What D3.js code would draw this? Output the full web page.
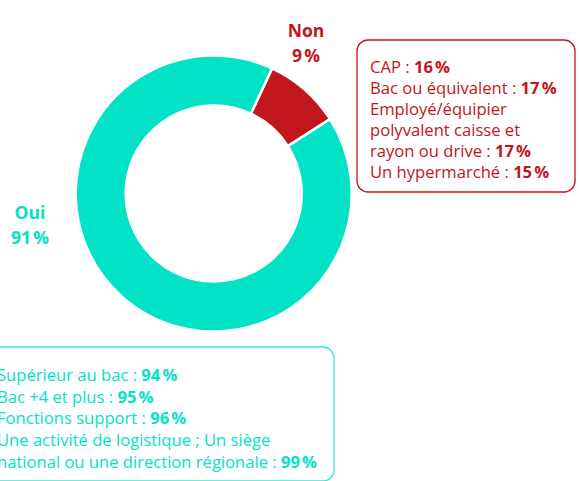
<!DOCTYPE html>
<html>
<head>
<meta charset="utf-8">
<script src="https://cdn.jsdelivr.net/npm/d3@7"></script>
<style>
  html, body { margin: 0; padding: 0; background: #fff; }
  svg { display: block; }
  text { font-family: "Open Sans", "Noto Sans", sans-serif; }
</style>
</head>
<body>
<svg id="chart" width="579" height="481"></svg>
<script>
// Answer shares (percent)
const categories = ["Non", "Oui"];
const values = [9, 91];
const colors = ["#C1161B", "#02E2C6"];

// Detail lines for each answer: [label, value]
const nonDetails = [
  ["CAP : ", "16\u202F%"],
  ["Bac ou équivalent : ", "17\u202F%"],
  ["Employé/équipier", null],
  ["polyvalent caisse et", null],
  ["rayon ou drive : ", "17\u202F%"],
  ["Un hypermarché : ", "15\u202F%"]
];
const ouiDetails = [
  ["Supérieur au bac : ", "94\u202F%"],
  ["Bac +4 et plus : ", "95\u202F%"],
  ["Fonctions support : ", "96\u202F%"],
  ["Une activité de logistique ; Un siège", null],
  ["national ou une direction régionale : ", "99\u202F%"]
];

const svg = d3.select("#chart");
const cx = 213.7, cy = 193.5, rOuter = 138, rInner = 88;
const startOffset = 25 * Math.PI / 180;

const pie = d3.pie().sort(null).value(d => d)
  .startAngle(startOffset).endAngle(startOffset + 2 * Math.PI);
const arc = d3.arc().innerRadius(rInner).outerRadius(rOuter);

const g = svg.append("g").attr("transform", `translate(${cx},${cy})`);
g.selectAll("path").data(pie(values)).join("path")
  .attr("d", arc)
  .attr("fill", (d, i) => colors[i])
  .attr("stroke", "#fff")
  .attr("stroke-width", 2.5)
  .attr("stroke-linejoin", "miter");

// Category labels
const labelPos = [{x: 306, y: 37}, {x: 30, y: 219}];
categories.forEach((c, i) => {
  const t = svg.append("text")
    .attr("x", labelPos[i].x).attr("y", labelPos[i].y)
    .attr("text-anchor", "middle")
    .attr("fill", colors[i])
    .attr("font-size", 17.5).attr("font-weight", 700);
  t.append("tspan").attr("x", labelPos[i].x).text(c);
  t.append("tspan").attr("x", labelPos[i].x).attr("dy", 25).text(values[i] + "\u202F%");
});

// Detail boxes
function detailBox(x, y, w, h, color, stroke, lines, tx, ty, lh) {
  svg.append("rect")
    .attr("x", x).attr("y", y).attr("width", w).attr("height", h)
    .attr("rx", 11).attr("ry", 11)
    .attr("fill", "none").attr("stroke", stroke).attr("stroke-width", 1.3);
  lines.forEach((l, i) => {
    const t = svg.append("text")
      .attr("x", tx).attr("y", ty + i * lh)
      .attr("fill", color).attr("font-size", 16.6);
    t.append("tspan").text(l[0]);
    if (l[1]) t.append("tspan").attr("font-weight", 700).text(l[1]);
  });
}

detailBox(357, 40, 218, 152, colors[0], colors[0], nonDetails, 370, 73, 21);
detailBox(-20, 347, 354, 134, colors[1], "#3FE6CF", ouiDetails, -3, 381, 21.7);
</script>
</body>
</html>
